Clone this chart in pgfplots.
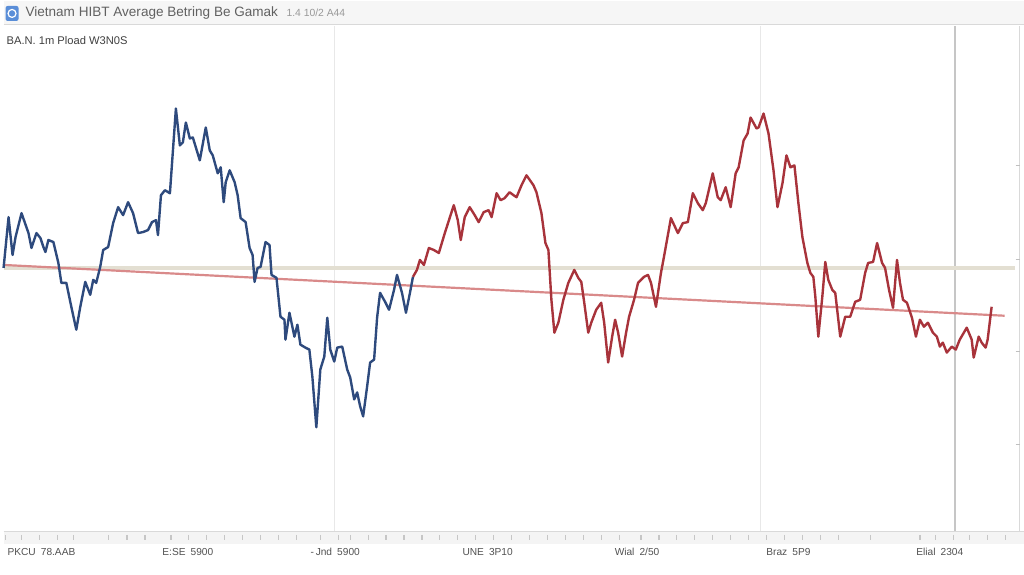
\documentclass[border=0pt]{standalone}
\usepackage{pgfplots}
\pgfplotsset{compat=1.18}
\usepackage{fontspec}
\setmainfont{Liberation Sans}
\definecolor{blueline}{HTML}{2E4A7D}
\definecolor{redline}{HTML}{A8333B}
\definecolor{trend}{HTML}{D98A8A}
\definecolor{beige}{HTML}{E3DFD2}
\definecolor{icon}{HTML}{5A8ED8}
\begin{document}
\begin{tikzpicture}
\begin{axis}[scale only axis, width=512pt, height=288pt,
  xmin=0, xmax=1024, ymin=0, ymax=576, y dir=reverse,
  hide axis, clip=false]
% background
\fill[white] (axis cs:0,0) rectangle (axis cs:1024,576);
% title bar
\fill[gray!7] (axis cs:0,0) rectangle (axis cs:1024,24);
\draw[gray!30, line width=0.5pt] (axis cs:0,24) -- (axis cs:1024,24);
\fill[icon, rounded corners=1pt] (axis cs:2,5) rectangle (axis cs:15,20);
\draw[white, line width=0.6pt] (axis cs:8.5,12.5) circle[radius=2pt];
\node[anchor=west, text=black!62, font=\fontsize{6.8}{8}\selectfont] at (axis cs:15,12) {Vietnam HIBT Average Betring Be Gamak};
\node[anchor=west, text=black!40, font=\fontsize{5.2}{6}\selectfont] at (axis cs:277,12) {1.4 10/2 A44};
\node[anchor=west, text=black!75, font=\fontsize{5.6}{6}\selectfont] at (axis cs:-4,40) {BA.N. 1m Pload W3N0S};
% grid lines
\draw[gray!18, line width=0.6pt] (axis cs:332,25) -- (axis cs:332,533);
\draw[gray!18, line width=0.6pt] (axis cs:760,25) -- (axis cs:760,533);
\draw[gray!45, line width=0.8pt] (axis cs:955,25) -- (axis cs:955,533);
\draw[gray!30, line width=0.5pt] (axis cs:1020,25) -- (axis cs:1020,533);
\pgfplotsinvokeforeach{165,260,352,445}{\draw[gray!50, line width=0.5pt] (axis cs:1016,#1) -- (axis cs:1020,#1);}
\draw[beige, line width=1.6pt] (axis cs:0,268) -- (axis cs:1015,268);
% bottom axis band
\fill[gray!9] (axis cs:0,533) rectangle (axis cs:1024,545);
\draw[gray!30, line width=0.5pt] (axis cs:0,533) -- (axis cs:1024,533);
\pgfplotsinvokeforeach{2,18,36,54,70,105,124,142,168,186,204,222,240,258,276,294,318,336,348,366,384,402,420,438,456,474,492,510,528,546,564,582,600,618,640,658,676,694,712,730,748,766,784,802,820,838,870,920,936,954,970,988,1006}{\draw[gray!45, line width=0.6pt] (axis cs:#1,536) -- (axis cs:#1,541);}
% tick labels
\node[text=black!68, font=\fontsize{5.1}{6}\selectfont] at (axis cs:38,553) {PKCU\enspace 78.AAB};
\node[text=black!68, font=\fontsize{5.1}{6}\selectfont] at (axis cs:185,553) {E:SE\enspace 5900};
\node[text=black!68, font=\fontsize{5.1}{6}\selectfont] at (axis cs:333,553) {-\,Jnd\enspace 5900};
\node[text=black!68, font=\fontsize{5.1}{6}\selectfont] at (axis cs:486,553) {UNE\enspace 3P10};
\node[text=black!68, font=\fontsize{5.1}{6}\selectfont] at (axis cs:636,553) {Wial\enspace 2/50};
\node[text=black!68, font=\fontsize{5.1}{6}\selectfont] at (axis cs:788,553) {Braz\enspace 5P9};
\node[text=black!68, font=\fontsize{5.1}{6}\selectfont] at (axis cs:940,553) {Elial\enspace 2304};
% trend line
\addplot[trend, line width=1.1pt] coordinates {(0,265) (1005,316)};
% blue series
\addplot[blueline, line width=1.2pt, line join=round] coordinates {
(0,268) (5,217) (9,255) (12,237) (18,213) (25,233) (28,248) (33,233) (37,238) (40,247)
(42,252) (45,240) (50,242) (55,263) (58,283) (63,283) (68,307) (73,330) (77,307) (82,282)
(87,295) (90,280) (93,283) (97,267) (100,250) (105,247) (110,223) (115,207) (120,215) (125,202)
(130,213) (135,233) (140,232) (145,230) (149,222) (153,220) (155,235) (158,195) (162,190) (167,193)
(173,108) (177,145) (180,142) (183,122) (187,138) (190,137) (197,160) (203,127) (207,150) (210,155)
(215,173) (218,167) (221,202) (223,182) (227,170) (232,182) (235,195) (238,218) (243,222) (247,248)
(250,255) (252,282) (255,268) (258,267) (263,242) (267,245) (269,275) (274,278) (278,317) (282,320)
(283,340) (287,313) (292,337) (295,325) (298,345) (303,348) (307,350) (310,377) (314,428) (318,370)
(322,357) (325,318) (328,350) (332,362) (335,348) (340,347) (345,370) (348,378) (352,400) (355,393)
(358,407) (361,417) (365,387) (368,363) (372,360) (375,318) (378,293) (383,302) (387,310) (392,290)
(395,275) (400,293) (404,313) (408,293) (411,277)
};
% red series
\addplot[redline, line width=1.2pt, line join=round] coordinates {
(411,277) (415,270) (418,260) (422,265) (427,248) (432,250) (437,253) (443,233) (452,205) (456,220)
(459,240) (463,217) (468,207) (473,215) (477,222) (482,212) (487,210) (490,217) (495,193) (499,200)
(503,198) (508,192) (512,195) (515,197) (520,185) (525,175) (532,185) (535,192) (540,213) (544,243)
(547,250) (550,300) (553,333) (557,323) (562,300) (567,283) (573,270) (577,278) (580,282) (583,303)
(587,333) (590,323) (595,310) (600,303) (603,323) (607,363) (611,337) (614,320) (617,333) (621,357)
(625,333) (628,317) (633,300) (637,283) (640,280) (643,277) (647,275) (650,283) (655,307) (660,273)
(663,257) (670,218) (677,233) (682,223) (687,222) (692,193) (697,203) (702,210) (705,203) (712,173)
(717,197) (720,200) (725,187) (730,207) (735,173) (738,167) (743,140) (747,133) (750,117) (756,128)
(758,127) (763,113) (768,133) (773,170) (777,207) (782,183) (786,155) (790,167) (794,165) (798,203)
(802,237) (807,263) (810,273) (813,277) (815,297) (818,337) (822,297) (825,262) (828,280) (832,290)
(835,293) (840,337) (845,317) (850,317) (855,302) (860,300) (865,273) (868,263) (873,262) (877,243)
(882,263) (885,268) (889,290) (893,308) (897,260) (900,283) (903,300) (907,303) (912,318) (916,337)
(920,320) (924,327) (928,323) (933,333) (937,337) (940,347) (943,343) (947,353) (952,347) (956,350)
(960,340) (967,328) (972,340) (974,358) (979,337) (982,343) (986,348) (988,340) (992,307)
};
\end{axis}
\end{tikzpicture}
\end{document}
